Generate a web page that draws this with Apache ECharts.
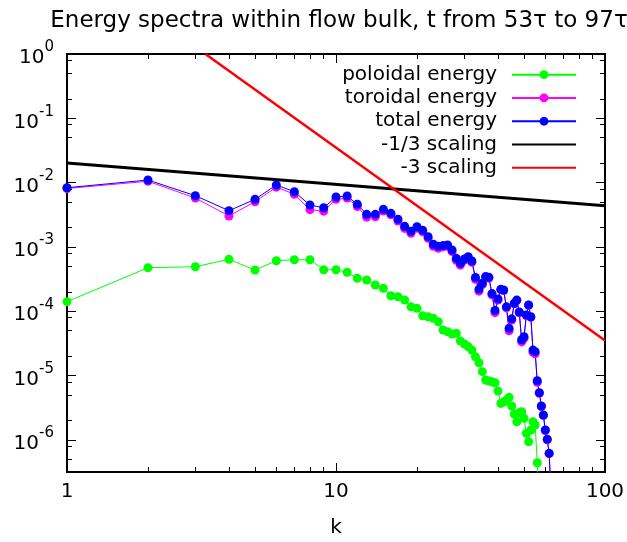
<!DOCTYPE html>
<html><head><meta charset="utf-8">
<script src="https://cdn.jsdelivr.net/npm/echarts@6/dist/echarts.min.js"></script>
<style>html,body{margin:0;padding:0;background:#fff}#c{width:627px;height:542px}</style>
</head><body><div id="c"></div>
<script>
// ---- data ----
const kValues = [1,2,3,4,5,6,7,8,9,10,11,12,13,14,15,16,17,18,19,20,21,22,23,24,25,26,27,28,29,30,
  31,32,33,34,35,36,37,38,39,40,41,42,43,44,45,46,47,48,49,50,51,52,53,54,55,56,57,58,59,60,61,62,63];
const poloidal = [1.41e-4,4.75e-4,4.92e-4,6.41e-4,4.37e-4,6.10e-4,6.32e-4,6.32e-4,4.42e-4,4.42e-4,
  4.03e-4,3.25e-4,3.06e-4,2.56e-4,2.27e-4,1.74e-4,1.68e-4,1.49e-4,1.17e-4,1.11e-4,
  8.51e-5,8.21e-5,7.76e-5,6.87e-5,5.10e-5,4.80e-5,4.42e-5,4.53e-5,3.44e-5,3.09e-5,
  2.82e-5,2.49e-5,1.96e-5,1.58e-5,1.15e-5,8.51e-6,8.21e-6,8.01e-6,7.73e-6,5.74e-6,
  3.69e-6,3.87e-6,4.16e-6,4.58e-6,3.36e-6,2.52e-6,1.91e-6,2.64e-6,2.74e-6,2.16e-6,
  1.26e-6,9.34e-7,1.42e-6,1.91e-6,1.70e-6,4.40e-7,1.0e-7];
const toroidal = [8.1e-3,1.05e-2,5.75e-3,3.03e-3,5.05e-3,8.5e-3,6.6e-3,3.8e-3,3.6e-3,5.5e-3,
  5.75e-3,4.25e-3,2.90e-3,2.95e-3,3.61e-3,3.16e-3,2.52e-3,1.94e-3,1.63e-3,1.95e-3,
  1.72e-3,1.36e-3,1.02e-3,9.5e-4,1.00e-3,1.02e-3,8.5e-4,6.2e-4,5.2e-4,6.17e-4,
  6.76e-4,5.78e-4,3.14e-4,2.05e-4,2.6e-4,3.37e-4,3.29e-4,1.80e-4,9.5e-5,1.49e-4,
  2.15e-4,2.10e-4,1.13e-4,4.96e-5,7.28e-5,1.305e-4,1.47e-4,9.46e-5,3.33e-5,3.79e-5,
  8.6e-5,1.24e-4,8.07e-5,2.30e-5,2.18e-5,7.86e-6,5.3e-6,3.3e-6,2.4e-6,1.4e-6,
  1.0e-6,6.1e-7,1.5e-7];
const total = [8.33e-3,1.097e-2,6.26e-3,3.66e-3,5.50e-3,9.18e-3,7.22e-3,4.48e-3,4.07e-3,5.97e-3,
  6.19e-3,4.60e-3,3.21e-3,3.21e-3,3.84e-3,3.33e-3,2.69e-3,2.09e-3,1.75e-3,2.06e-3,
  1.81e-3,1.44e-3,1.10e-3,1.02e-3,1.05e-3,1.07e-3,8.95e-4,6.65e-4,5.56e-4,6.48e-4,
  7.04e-4,6.03e-4,3.34e-4,2.21e-4,2.72e-4,3.46e-4,3.37e-4,1.88e-4,1.03e-4,1.55e-4,
  2.19e-4,2.14e-4,1.17e-4,5.42e-5,7.62e-5,1.33e-4,1.49e-4,9.72e-5,3.60e-5,4.01e-5,
  8.73e-5,1.25e-4,8.21e-5,2.49e-5,2.35e-5,8.30e-6,5.40e-6,3.36e-6,2.43e-6,1.42e-6,
  1.02e-6,6.17e-7,1.5e-7];
const thirdK = [1, 100];
const thirdE = [0.0202, 0.00435];
const threeK = [3.27, 100];
const threeE = [1, 3.5e-5];
const seriesNames = ['poloidal energy','toroidal energy','total energy','-1/3 scaling','-3 scaling'];
const titleText = 'Energy spectra within flow bulk, t from 53\u03c4 to 97\u03c4';
const xLabelTicks = [1, 10, 100];
const xMinorTicks = [2,3,4,5,6,7,8,9,20,30,40,50,60,70,80,90];
const yLabelTicks = [1e-6,1e-5,1e-4,1e-3,1e-2,1e-1,1];
const yMinorTicks = [5e-7,8e-7,2e-6,5e-6,8e-6,2e-5,5e-5,8e-5,2e-4,5e-4,8e-4,2e-3,5e-3,8e-3,2e-2,5e-2,8e-2,0.2,0.5,0.8];
const X_MIN = 1, X_MAX = 100, Y_MIN = 3.1623e-7, Y_MAX = 1;

// ---- chart ----
const FONT = 'DejaVu Sans';
const pairs = (xs, ys) => ys.map((y, i) => [xs[i], y]);

function xAx(position, ticks, len, withLabels, withLine) {
  return {
    type: 'log', logBase: 10, min: X_MIN, max: X_MAX, position: position,
    axisLine: {show: withLine, onZero: false, lineStyle: {color: '#000', width: 2}},
    axisTick: {show: true, inside: true, length: len, customValues: ticks, lineStyle: {color: '#000', width: 1}},
    axisLabel: withLabels ? {show: true, customValues: ticks, margin: 10, color: '#000',
      fontFamily: FONT, fontSize: 20, formatter: v => String(Math.round(v))} : {show: false},
    splitLine: {show: false}, minorTick: {show: false},
    name: withLabels ? 'k' : '', nameLocation: 'middle', nameGap: 46,
    nameTextStyle: {fontFamily: FONT, fontSize: 20, color: '#000'}
  };
}
function yAx(position, ticks, len, withLabels, withLine) {
  return {
    type: 'log', logBase: 10, min: Y_MIN, max: Y_MAX, position: position,
    axisLine: {show: withLine, onZero: false, lineStyle: {color: '#000', width: 2}},
    axisTick: {show: true, inside: true, length: len, customValues: ticks, lineStyle: {color: '#000', width: 1}},
    axisLabel: withLabels ? {show: true, customValues: ticks, margin: 13, color: '#000',
      padding: [8, 0, 0, 0],
      formatter: v => '{b|10}{s|' + Math.round(Math.log10(v)) + '}',
      rich: {
        b: {fontFamily: FONT, fontSize: 20, color: '#000', lineHeight: 36},
        s: {fontFamily: FONT, fontSize: 15, color: '#000', lineHeight: 15, verticalAlign: 'top'}
      }} : {show: false},
    splitLine: {show: false}, minorTick: {show: false}
  };
}

const legendData = seriesNames.map((n, i) => i < 3 ? {name: n}
  : {name: n, itemStyle: {color: 'rgba(0,0,0,0)', borderWidth: 0, opacity: 0}});

const chart = echarts.init(document.getElementById('c'), null, {renderer: 'canvas'});
chart.setOption({
  animation: false,
  backgroundColor: '#fff',
  title: {text: titleText, left: 334, textAlign: 'center', top: 5,
    textStyle: {fontFamily: FONT, fontSize: 23, fontWeight: 'normal', color: '#000'}},
  grid: {left: 67, right: 22, top: 54, bottom: 70, containLabel: false, outerBoundsMode: 'none'},
  legend: {
    data: legendData, orient: 'vertical', right: 50, top: 63, padding: 0,
    align: 'right', itemWidth: 64, itemHeight: 11, itemGap: 0, selectedMode: false,
    textStyle: {fontFamily: FONT, fontSize: 20, color: '#000', lineHeight: 23.3, padding: [0, 10, 0, 0]}
  },
  xAxis: [
    xAx('bottom', xLabelTicks, 9, true, true),
    xAx('bottom', xMinorTicks, 5, false, false),
    xAx('top', xLabelTicks, 9, false, true),
    xAx('top', xMinorTicks, 5, false, false)
  ],
  yAxis: [
    yAx('left', yLabelTicks, 9, true, true),
    yAx('left', yMinorTicks, 5, false, false),
    yAx('right', yLabelTicks, 9, false, true),
    yAx('right', yMinorTicks, 5, false, false)
  ],
  series: [
    {name: seriesNames[0], type: 'line', data: pairs(kValues, poloidal), symbol: 'circle', symbolSize: 9,
      lineStyle: {color: '#00ff00', width: 1}, itemStyle: {color: '#00ff00', borderWidth: 0}, clip: true},
    {name: seriesNames[1], type: 'line', data: pairs(kValues, toroidal), symbol: 'circle', symbolSize: 9,
      lineStyle: {color: '#ff00ff', width: 1}, itemStyle: {color: '#ff00ff', borderWidth: 0}, clip: true},
    {name: seriesNames[2], type: 'line', data: pairs(kValues, total), symbol: 'circle', symbolSize: 9,
      lineStyle: {color: '#0000ff', width: 1}, itemStyle: {color: '#0000ff', borderWidth: 0}, clip: true},
    {name: seriesNames[3], type: 'line', data: pairs(thirdK, thirdE), symbol: 'none', showSymbol: false,
      lineStyle: {color: '#000000', width: 3}, itemStyle: {color: '#000000'}, clip: true},
    {name: seriesNames[4], type: 'line', data: pairs(threeK, threeE), symbol: 'none', showSymbol: false,
      lineStyle: {color: '#ff0000', width: 2.5}, itemStyle: {color: '#ff0000'}, clip: true}
  ]
});
</script></body></html>
